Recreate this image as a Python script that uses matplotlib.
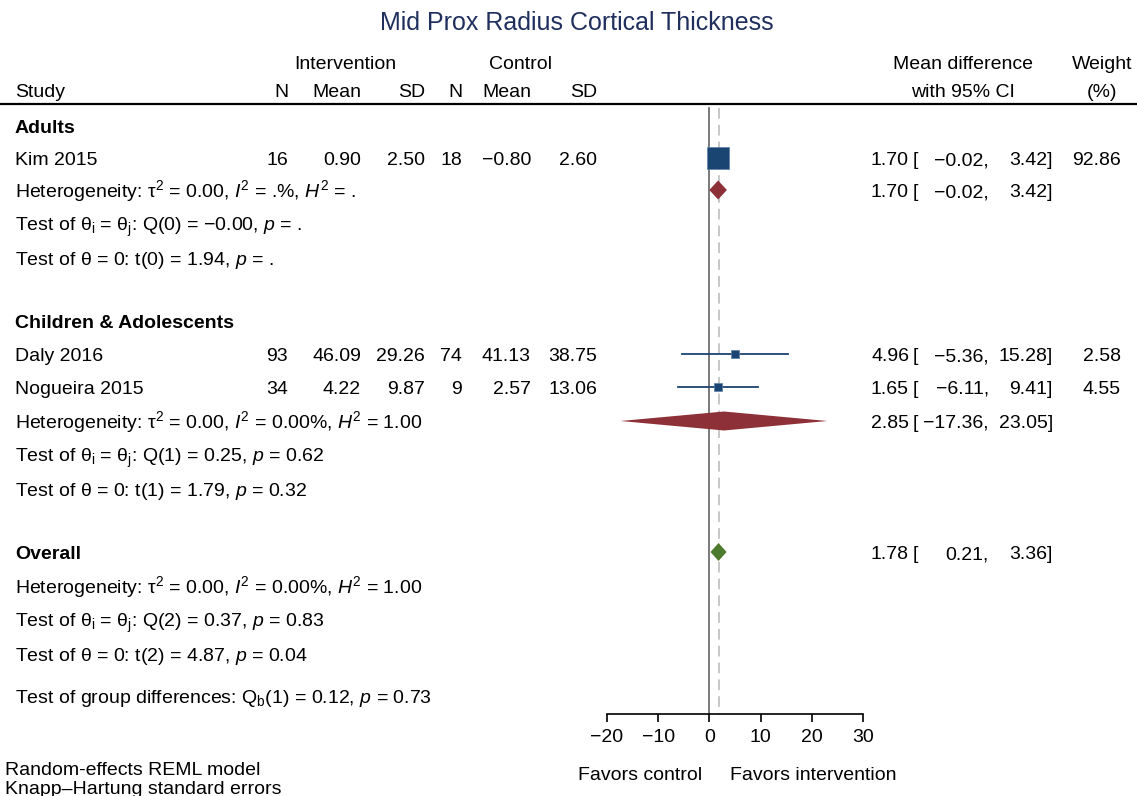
import matplotlib
matplotlib.use("Agg")
import matplotlib.pyplot as plt
import numpy as np

plt.rcParams['font.family'] = ['Liberation Sans', 'DejaVu Sans']
plt.rcParams['mathtext.fontset'] = 'custom'
plt.rcParams['mathtext.rm'] = 'Liberation Sans'
plt.rcParams['mathtext.it'] = 'Liberation Sans:italic'
plt.rcParams['mathtext.bf'] = 'Liberation Sans:bold'

# ---------------- data ----------------
title = "Mid Prox Radius Cortical Thickness"
groups = ["Adults", "Children & Adolescents"]
studies = ["Kim 2015", "Daly 2016", "Nogueira 2015"]
study_group = [0, 1, 1]
n_int = [16, 93, 34]
mean_int = [0.90, 46.09, 4.22]
sd_int = [2.50, 29.26, 9.87]
n_ctl = [18, 74, 9]
mean_ctl = [-0.80, 41.13, 2.57]
sd_ctl = [2.60, 38.75, 13.06]
md = [1.70, 4.96, 1.65]
md_lo = [-0.02, -5.36, -6.11]
md_hi = [3.42, 15.28, 9.41]
weights = [92.86, 2.58, 4.55]

sub_md = [1.70, 2.85]
sub_lo = [-0.02, -17.36]
sub_hi = [3.42, 23.05]
sub_het = [r"Heterogeneity: τ$^2$ = 0.00, $I^2$ = .%, $H^2$ = .",
           r"Heterogeneity: τ$^2$ = 0.00, $I^2$ = 0.00%, $H^2$ = 1.00"]
sub_q = [r"Test of θ$_\mathrm{i}$ = θ$_\mathrm{j}$: Q(0) = −0.00, $p$ = .",
         r"Test of θ$_\mathrm{i}$ = θ$_\mathrm{j}$: Q(1) = 0.25, $p$ = 0.62"]
sub_t = [r"Test of θ = 0: t(0) = 1.94, $p$ = .",
         r"Test of θ = 0: t(1) = 1.79, $p$ = 0.32"]

overall_md = 1.78
overall_lo = 0.21
overall_hi = 3.36
overall_het = r"Heterogeneity: τ$^2$ = 0.00, $I^2$ = 0.00%, $H^2$ = 1.00"
overall_q = r"Test of θ$_\mathrm{i}$ = θ$_\mathrm{j}$: Q(2) = 0.37, $p$ = 0.83"
overall_t = r"Test of θ = 0: t(2) = 4.87, $p$ = 0.04"
group_diff = r"Test of group differences: Q$_\mathrm{b}$(1) = 0.12, $p$ = 0.73"

xticks = [-20, -10, 0, 10, 20, 30]
favors = ["Favors control", "Favors intervention"]
footnotes = ["Random-effects REML model", "Knapp–Hartung standard errors"]

# ---------------- layout (pixel rows) ----------------
W, H = 1137, 796
fig = plt.figure(figsize=(W / 100, H / 100), dpi=100)
bg = fig.add_axes([0, 0, 1, 1])
bg.set_xlim(0, W)
bg.set_ylim(H, 0)
bg.axis('off')

ax_left, ax_right, ax_bottom = 607, 863, 714
ax = fig.add_axes([ax_left / W, (H - ax_bottom) / H, (ax_right - ax_left) / W, ax_bottom / H])
ax.set_xlim(xticks[0], xticks[-1])
ax.set_ylim(ax_bottom, 0)
ax.patch.set_alpha(0)
for s in ['top', 'right', 'left']:
    ax.spines[s].set_visible(False)
ax.spines['bottom'].set_linewidth(1.2)
ax.set_yticks([])
ax.set_xticks(xticks)
ax.tick_params(axis='x', labelsize=14, length=6, width=1.2, pad=5)

fs = 14
base = 7  # baseline offset from row centre (px)
navy = '#1a4472'
red = '#8e3038'
green = '#4e7a2c'

def T(x, y, s, **kw):
    kw.setdefault('fontsize', fs)
    bg.text(x, y + base, s, va='baseline', **kw)

def fmt(v):
    return f"{v:.2f}".replace('-', '−')

# header
T(W / 2 + 8, 23, title, ha='center', fontsize=18, color='#1f2f5e')
T(345, 62, "Intervention", ha='center')
T(521, 62, "Control", ha='center')
T(15, 90, "Study", ha='left')
col_x = [288, 361, 425, 462, 531, 597]
for x, lab in zip(col_x, ["N", "Mean", "SD", "N", "Mean", "SD"]):
    T(x, 90, lab, ha='right')
T(963, 62, "Mean difference", ha='center')
T(963, 90, "with 95% CI", ha='center')
T(1102, 62, "Weight", ha='center')
T(1102, 90, "(%)", ha='center')
bg.plot([0, W], [104, 104], color='black', lw=1.6)

# row positions
group_y = [126, 321]
study_y = [158, 354, 387]
sub_y = [190, 421]
overall_y = 552

def ci_text(y, m, lo, hi):
    T(909, y, fmt(m), ha='right')
    T(913, y, "[", ha='left')
    T(989, y, fmt(lo) + ",", ha='right')
    T(1053, y, fmt(hi) + "]", ha='right')

# null and overall lines
ax.plot([0, 0], [108, ax_bottom], color='#707070', lw=1.3, zorder=1)
ax.plot([overall_md, overall_md], [108, ax_bottom], color='#b8b8b8', lw=1.1,
        ls=(0, (7, 4)), zorder=1)

wmax = max(weights)
for g, gname in enumerate(groups):
    T(15, group_y[g], gname, ha='left', fontweight='bold')
    for i, st in enumerate(studies):
        if study_group[i] != g:
            continue
        y = study_y[i]
        T(15, y, st, ha='left')
        vals = [str(n_int[i]), fmt(mean_int[i]), fmt(sd_int[i]),
                str(n_ctl[i]), fmt(mean_ctl[i]), fmt(sd_ctl[i])]
        for x, v in zip(col_x, vals):
            T(x, y, v, ha='right')
        ci_text(y, md[i], md_lo[i], md_hi[i])
        T(1121, y, f"{weights[i]:.2f}", ha='right')
        ax.plot([md_lo[i], md_hi[i]], [y, y], color=navy, lw=1.3, zorder=2)
        side_px = 4 + 18 * np.sqrt(weights[i] / wmax)
        ax.plot(md[i], y, marker='s', ms=side_px * 0.72, color=navy, mec='#5a7fa8',
                mew=0.5, zorder=3)
    # subgroup diamond
    ys = sub_y[g]
    ax.fill([sub_lo[g], sub_md[g], sub_hi[g], sub_md[g]],
            [ys, ys - 9.5, ys, ys + 9.5], color=red, lw=0, zorder=3)
    ci_text(ys, sub_md[g], sub_lo[g], sub_hi[g])
    T(15, ys, sub_het[g], ha='left')
    T(15, ys + 34, sub_q[g], ha='left')
    T(15, ys + 68, sub_t[g], ha='left')

# overall
T(15, overall_y, "Overall", ha='left', fontweight='bold')
ax.fill([overall_lo, overall_md, overall_hi, overall_md],
        [overall_y, overall_y - 9, overall_y, overall_y + 9], color=green, lw=0, zorder=3)
ci_text(overall_y, overall_md, overall_lo, overall_hi)
T(15, 586, overall_het, ha='left')
T(15, 620, overall_q, ha='left')
T(15, 654, overall_t, ha='left')
T(15, 696, group_diff, ha='left')

# favors labels
T(640, 773, favors[0], ha='center')
T(813, 773, favors[1], ha='center')

# footnotes
T(5, 768, footnotes[0], ha='left')
T(5, 787, footnotes[1], ha='left')

fig.savefig("out.png", dpi=100, facecolor='white')
